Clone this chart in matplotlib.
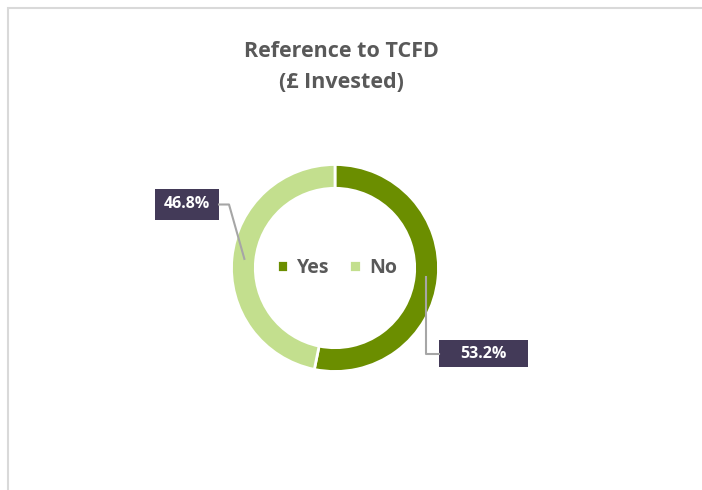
import matplotlib
matplotlib.use("Agg")
import matplotlib.pyplot as plt
from matplotlib.patches import Rectangle
import numpy as np

categories = ["Yes", "No"]
values = [53.2, 46.8]
colors = ["#6B8E00", "#C3DF8E"]
title = "Reference to TCFD\n(£ Invested)"

W, H = 702, 490
fig = plt.figure(figsize=(W / 100, H / 100), dpi=100)
plt.rcParams['font.family'] = ['Open Sans', 'DejaVu Sans']

def fx(x):
    return x / W

def fy(y):
    return 1 - y / H

# chart border
fig.patches.append(Rectangle((fx(7.5), fy(600)), fx(800), 592 / H,
                             transform=fig.transFigure, fill=False,
                             edgecolor="#D9D9D9", linewidth=1.5))

# title
fig.text(fx(341), fy(67), title, ha="center", va="center", fontsize=15.5,
         fontweight="bold", color="#595959", linespacing=1.68)

# donut
cx, cy, R = 335, 268, 103.5
ax = fig.add_axes([fx(cx - R), fy(cy + R), 2 * R / W, 2 * R / H])
wedges, _ = ax.pie(values, colors=colors, startangle=90, counterclock=False,
                   radius=1.0, wedgeprops=dict(width=0.23, edgecolor="white",
                                               linewidth=2.0))
ax.set_xlim(-1, 1)
ax.set_ylim(-1, 1)
ax.set_aspect("equal")
ax.axis("off")

# legend
ax.legend(wedges, categories, loc="center", ncol=2, frameon=False,
          prop=dict(size=14, weight="bold"), labelcolor="#595959",
          handlelength=0.6, handleheight=0.6, handletextpad=0.45,
          columnspacing=1.0, bbox_to_anchor=(0.51, 0.5))

# data labels
def mid_point(w, r=0.88):
    ang = np.deg2rad((w.theta1 + w.theta2) / 2)
    return cx + r * R * np.cos(ang), cy - r * R * np.sin(ang)

box_col = "#433A58"
line_col = "#A6A6A6"
label_boxes = [(439, 340, 89, 27), (155, 189, 64, 31)]
for w, v, (bx, by, bw, bh) in zip(wedges, values, label_boxes):
    px, py = mid_point(w)
    fig.patches.append(Rectangle((fx(bx), fy(by + bh)), bw / W, bh / H,
                                 transform=fig.transFigure, facecolor=box_col,
                                 edgecolor="none"))
    fig.text(fx(bx + bw / 2), fy(by + bh / 2), f"{v:.1f}%", ha="center",
             va="center", fontsize=11.5, fontweight="bold", color="white")
    ymid = by + bh / 2
    if bx > cx:
        xs = [px, px, bx]
        ys = [py, ymid, ymid]
    else:
        xs = [bx + bw, bx + bw + 10, px]
        ys = [ymid, ymid, py]
    fig.lines.append(plt.Line2D([fx(x) for x in xs], [fy(y) for y in ys],
                                transform=fig.transFigure, color=line_col,
                                linewidth=1.5))

fig.savefig("out.png", dpi=100, facecolor="white")
